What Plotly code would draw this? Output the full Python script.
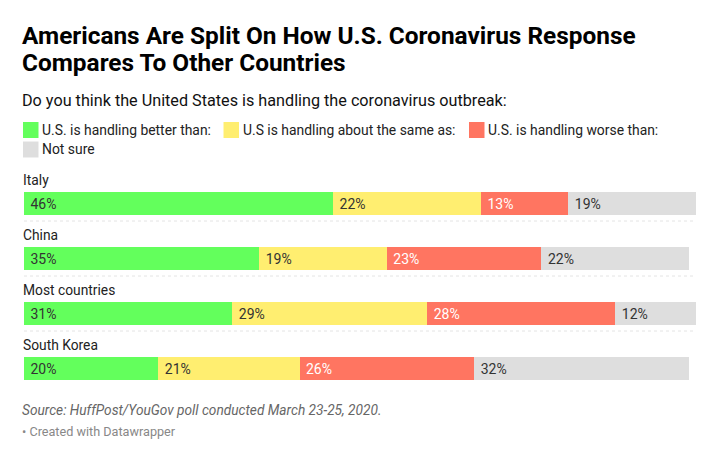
import plotly.graph_objects as go

categories = ["Italy", "China", "Most countries", "South Korea"]
series_names = ["U.S. is handling better than:", "U.S is handling about the same as:", "U.S. is handling worse than:", "Not sure"]
better = [46, 35, 31, 20]
same = [22, 19, 29, 21]
worse = [13, 23, 28, 26]
unsure = [19, 22, 12, 32]
colors = ["#63ff5c", "#ffee70", "#ff7561", "#dedede"]
label_colors = ["#333333", "#333333", "#ffffff", "#333333"]
series = [better, same, worse, unsure]

# The page sits 8px in from the window's corner, so the figure is sized for the
# visible area and reference pixel positions are shifted by that inset.
INSET = 8
W, H = 720 - INSET, 461 - INSET
L, R = 24, 696
TOP, BOT = 176, 396
font = "Roboto"

fig = go.Figure()
for name, vals, col, lc in zip(series_names, series, colors, label_colors):
    fig.add_trace(go.Bar(
        y=categories, x=vals, orientation="h", name=name, showlegend=False,
        marker=dict(color=col, line=dict(width=0)),
        text=[f"\u00a0{v}%" for v in vals], textposition="inside", insidetextanchor="start",
        textangle=0, constraintext="none",
        textfont=dict(family=font, size=14, color=lc),
        hoverinfo="skip",
    ))

def px(x): return (x - INSET) / W
def py(y): return 1 - (y - INSET) / H

anns = []
def txt(x, y, s, size, color="#222222"):
    anns.append(dict(x=px(x), y=py(y), xref="paper", yref="paper", text=s, showarrow=False,
                     xanchor="left", yanchor="middle", xshift=0, borderpad=0, borderwidth=0,
                     font=dict(family=font, size=size, color=color)))

txt(22, 36, "<b>Americans Are Split On How U.S. Coronavirus Response</b>", 24.4, "#000000")
txt(22, 63, "<b>Compares To Other Countries</b>", 24.4, "#000000")
txt(22, 100, "Do you think the United States is handling the coronavirus outbreak:", 16.2, "#111111")
leg = [(42, 130, series_names[0]), (243, 130, series_names[1]), (488, 130, series_names[2]), (42, 149, series_names[3])]
for x, y, s in leg:
    txt(x, y, s, 13.9, "#222222")
for i, c in enumerate(categories):
    txt(23, 179.5 + i * 55, c, 13.8, "#222222")
txt(22, 410, "<i>Source: HuffPost/YouGov poll conducted March 23-25, 2020.</i>", 13.7, "#666666")
txt(22, 431, "• Created with Datawrapper", 12.65, "#888888")

shapes = []
for x, y, col in [(23, 130, colors[0]), (223.5, 130, colors[1]), (469, 130, colors[2]), (23, 149.5, colors[3])]:
    shapes.append(dict(type="rect", xref="paper", yref="paper", x0=px(x), x1=px(x + 15.5), y0=py(y + 8), y1=py(y - 8),
                       fillcolor=col, line=dict(width=0)))
for y in [221, 276, 331]:
    shapes.append(dict(type="line", xref="paper", yref="paper", x0=px(24), x1=px(696), y0=py(y), y1=py(y),
                       line=dict(color="#e4e4e4", width=1, dash="dot")))

fig.update_layout(
    width=W, height=H, autosize=False, barmode="stack", bargap=0.58,
    margin=dict(l=0, r=0, t=0, b=0), paper_bgcolor="white", plot_bgcolor="white",
    xaxis=dict(domain=[px(L), px(R)], range=[0, 100], visible=False, fixedrange=True),
    yaxis=dict(domain=[py(BOT), py(TOP)], autorange="reversed", visible=False, fixedrange=True),
    annotations=anns, shapes=shapes, showlegend=False,
)
fig.write_html("out.html", config={"displayModeBar": False})
